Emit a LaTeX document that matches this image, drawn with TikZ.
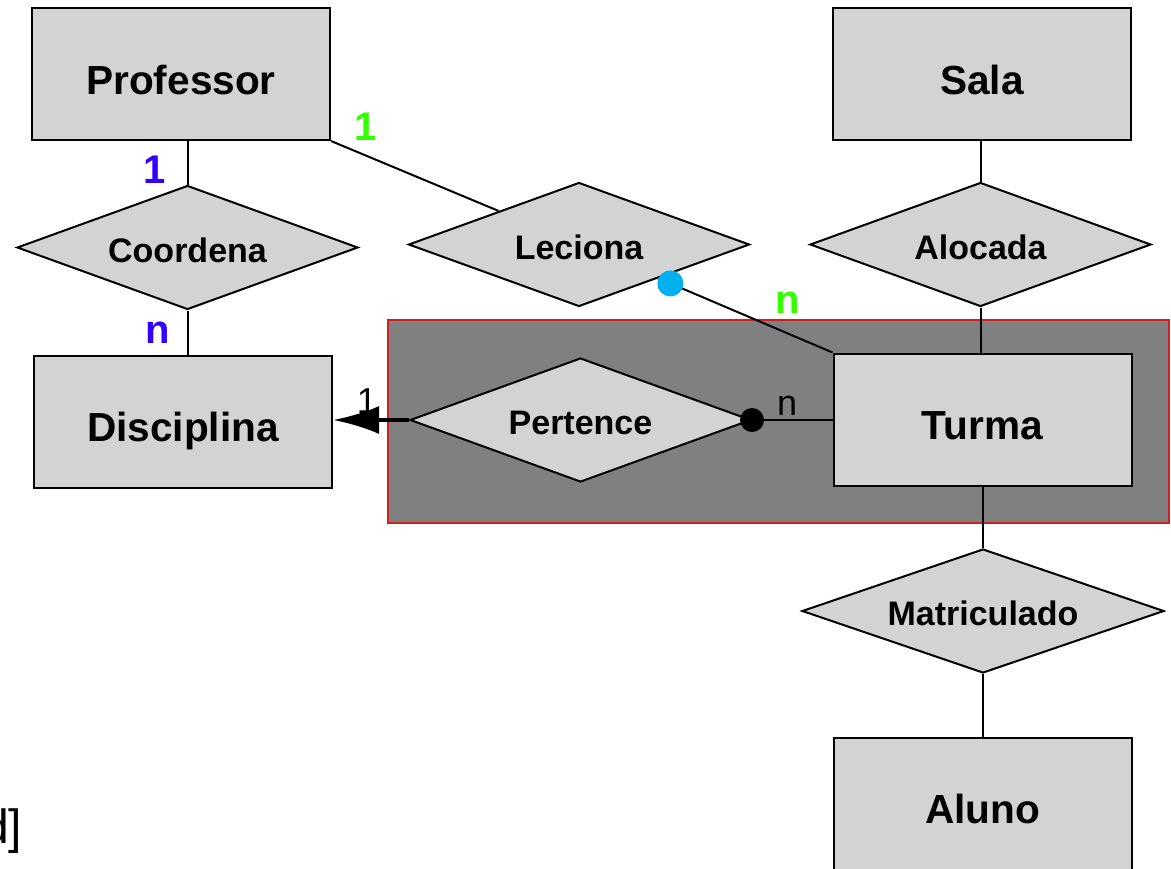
\documentclass[tikz,border=0pt]{standalone}
\usepackage{fontspec}
\setmainfont{Liberation Sans}
\usetikzlibrary{shapes.geometric,arrows.meta}
\definecolor{boxgray}{RGB}{211,211,211}
\definecolor{groupgray}{RGB}{128,128,128}
\definecolor{groupframe}{RGB}{204,34,34}
\definecolor{cardblue}{RGB}{51,0,255}
\definecolor{cardgreen}{RGB}{51,255,0}
\definecolor{dotblue}{RGB}{0,176,240}
\tikzset{
  entity/.style={rectangle,draw,fill=boxgray,minimum width=149pt,minimum height=66pt,inner sep=0pt,text height=20pt,text depth=0pt,font=\fontsize{20.3pt}{24pt}\selectfont\bfseries},
  relation/.style={diamond,draw,fill=boxgray,aspect=2.8,minimum width=170.5pt,minimum height=62pt,inner sep=0pt,text height=14.5pt,text depth=0pt,font=\fontsize{17pt}{20pt}\selectfont\bfseries},
  card/.style={font=\fontsize{20pt}{24pt}\selectfont\bfseries},
  plain/.style={font=\fontsize{18pt}{22pt}\selectfont},
}
\begin{document}
\begin{tikzpicture}[x=0.5pt,y=-0.5pt,line width=1pt]
\useasboundingbox (0,0) rectangle (1171,868);

% aggregate around Pertence and Turma
\draw[groupframe,fill=groupgray] (388,320) rectangle (1169,523);

% entities
\node[entity] (prof) at (181,74) {Professor};
\node[entity] (sala) at (982,74) {Sala};
\node[entity] (disc) at (183,421.5) {Disciplina};
\node[entity] (turma) at (982.5,419.5) {Turma};
\node[entity] (aluno) at (982.5,803.5) {Aluno};

% relationships
\node[relation] (coord) at (187.5,247.5) {Coordena};
\node[relation] (lec) at (579,244.5) {Leciona};
\node[relation] (aloc) at (980.5,244.5) {Alocada};
\node[relation] (pert) at (580.5,420) {Pertence};
\node[relation,minimum width=181pt] (matr) at (983,611) {Matriculado};

% links
\draw (coord.north) -- (coord.north |- prof.south);
\draw (coord.south) -- (coord.south |- disc.north);
\draw (prof.south east) -- (lec);
\draw[{Circle[length=13pt,color=dotblue]}-] (lec) -- (turma.north west);
\draw (aloc.north) -- (aloc.north |- sala.south);
\draw (aloc.south) -- (aloc.south |- turma.north);
\draw (matr.north) -- (matr.north |- turma.south);
\draw (matr.south) -- (matr.south |- aluno.north);
\draw[line width=2pt,-{Latex[length=23pt,width=14pt]}] (pert.west) -- (pert.west -| disc.east);
\draw (pert.east) -- (pert.east -| turma.west);
\fill (pert.east) circle (6pt);

% cardinalities
\node[card,text=cardblue] (c1) at (155,170) {1};
\node[card,text=cardblue] (c2) at (158,333) {n};
\node[card,text=cardgreen] (c3) at (366,127) {1};
\node[card,text=cardgreen] (c4) at (788,303) {n};
\node[plain] (c5) at (367,401) {1};
\node[plain] (c6) at (787,406) {n};

\node[plain,font=\fontsize{24pt}{28pt}\selectfont,anchor=base east] (note) at (30,843) {d]};
\end{tikzpicture}
\end{document}
